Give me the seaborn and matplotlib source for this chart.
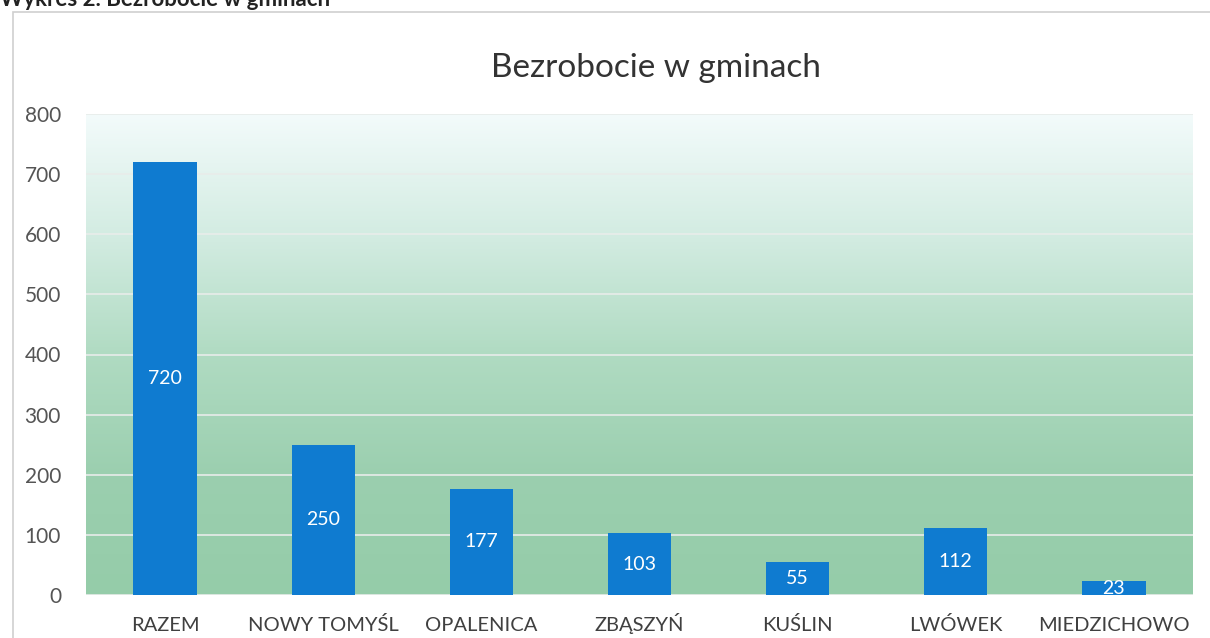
import numpy as np
import seaborn as sns
import matplotlib.pyplot as plt
from matplotlib.colors import LinearSegmentedColormap
from matplotlib.patches import Rectangle

gminy = ["RAZEM", "NOWY TOMYŚL", "OPALENICA", "ZBĄSZYŃ", "KUŚLIN", "LWÓWEK", "MIEDZICHOWO"]
bezrobotni = [720, 250, 177, 103, 55, 112, 23]
y_ticks = [0, 100, 200, 300, 400, 500, 600, 700, 800]

sns.set_theme(style="white")
plt.rcParams['font.family'] = ['Lato', 'DejaVu Sans']

fig = plt.figure(figsize=(12.1, 6.38), dpi=100)
ax = fig.add_axes([86 / 1210, 43 / 638, (1193 - 86) / 1210, (595 - 114) / 638])

# gradient background (white-blue at top -> green at bottom)
cmap = LinearSegmentedColormap.from_list(
    "bg", ["#f3fbfb", "#d3ece2", "#b0dbc2", "#9bcfaf", "#95cca9"])
grad = np.linspace(0, 1, 256).reshape(-1, 1)
ax.imshow(grad, cmap=cmap, aspect="auto", extent=[-0.5, 6.5, 0, 800],
          zorder=0, origin="upper")

sns.barplot(x=gminy, y=bezrobotni, color="#0f7bd0", width=0.4,
            saturation=1, linewidth=0, ax=ax, zorder=3)
for c in ax.containers:
    ax.bar_label(c, label_type="center", color="white", fontsize=14)

ax.set_xlim(-0.5, 6.5)
ax.set_ylim(0, 800)
ax.set_yticks(y_ticks)
ax.set_aspect("auto")
ax.grid(axis="y", color="#e8ecea", linewidth=1.2, zorder=1)
ax.set_axisbelow(True)
for s in ax.spines.values():
    s.set_visible(False)
ax.tick_params(axis="y", labelsize=15, labelcolor="#555555", pad=18, length=0)
ax.tick_params(axis="x", labelsize=14.5, labelcolor="#404040", pad=26, length=0)
for lab in ax.get_xticklabels():
    lab.set_verticalalignment("baseline")
ax.set_xlabel("")
ax.set_ylabel("")

fig.text(656 / 1210, 1 - 68 / 638, "Bezrobocie w gminach", ha="center", va="center",
         fontsize=24, color="#333333")
fig.text(0.0, 1.0, "Wykres 2. Bezrobocie w gminach", ha="left", va="center",
         fontsize=16, fontweight="bold", color="#222222")
fig.patches.append(Rectangle((13 / 1210, -0.05), 1.0, 0.05 + 1 - 12 / 638,
                             transform=fig.transFigure, fill=False,
                             edgecolor="#cfcfcf", linewidth=1.2))

fig.savefig("out.png", dpi=100)
